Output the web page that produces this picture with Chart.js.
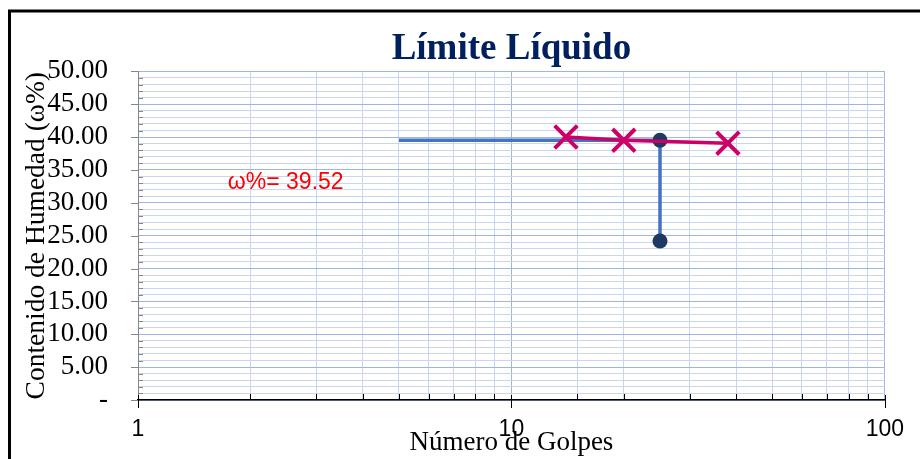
<!DOCTYPE html>
<html>
<head>
<meta charset="utf-8">
<script src="https://cdn.jsdelivr.net/npm/chart.js@4/dist/chart.umd.min.js"></script>
<style>
  body { margin: 0; background: #fff; }
  #wrap { width: 920px; height: 459px; }
</style>
</head>
<body>
<div id="wrap"><canvas id="lpChart" width="920" height="459"></canvas></div>
<script>
// ensayos de Casagrande
const golpes = [14, 20, 38];
const humedad = [40.02, 39.52, 39.08];
// lectura a 25 golpes
const lecturaX = [5, 25, 25];
const lecturaY = [39.52, 39.52, 24.2];
const puntosX = [25, 25];
const puntosY = [39.52, 24.2];
const xLabels = [1, 10, 100];
const limiteLiquido = 39.52;

const MINOR = "#c8d6f0";
const MAJOR = "#9db4e4";
const serif = "'Liberation Serif', 'Times New Roman', serif";
const sans = "'Liberation Sans', Arial, sans-serif";

const toPts = (xs, ys) => xs.map((x, i) => ({ x: x, y: ys[i] }));

// marco negro del gráfico + marcas de ejes
const framePlugin = {
  id: "frame",
  beforeDraw(chart) {
    const ctx = chart.ctx;
    ctx.save();
    ctx.strokeStyle = "#000";
    ctx.lineWidth = 3;
    ctx.strokeRect(9.5, 11, 1200, 1000);
    ctx.restore();
  },
  afterDraw(chart) {
    const ctx = chart.ctx;
    const xs = chart.scales.x;
    const ys = chart.scales.y;
    const a = chart.chartArea;
    ctx.save();
    ctx.lineWidth = 1;
    ctx.strokeStyle = "#868686";
    ys.ticks.forEach((t) => {
      const py = Math.round(ys.getPixelForValue(t.value)) + 0.5;
      ctx.beginPath();
      if (t.value % 5 === 0) {
        ctx.moveTo(a.left - 7, py);
        ctx.lineTo(a.left, py);
      } else {
        ctx.moveTo(a.left, py);
        ctx.lineTo(a.left + 5, py);
      }
      ctx.stroke();
    });
    ctx.strokeStyle = "#000";
    xs.ticks.forEach((t) => {
      const px = Math.round(xs.getPixelForValue(t.value)) + 0.5;
      ctx.beginPath();
      if (xLabels.includes(t.value)) {
        ctx.moveTo(px, a.bottom - 5);
        ctx.lineTo(px, a.bottom + 8);
      } else {
        ctx.moveTo(px, a.bottom - 6);
        ctx.lineTo(px, a.bottom);
      }
      ctx.stroke();
    });
    ctx.restore();
  },
  afterDatasetsDraw(chart) {
    const ctx = chart.ctx;
    ctx.save();
    ctx.fillStyle = "#ff0000";
    ctx.font = "23px " + sans;
    ctx.textAlign = "left";
    ctx.textBaseline = "middle";
    const px = chart.scales.x.getPixelForValue(1.74);
    const py = chart.scales.y.getPixelForValue(33.1);
    ctx.fillText("ω%= " + limiteLiquido.toFixed(2), px, py);
    ctx.restore();
  },
};

const ctx = document.getElementById("lpChart").getContext("2d");
new Chart(ctx, {
  type: "scatter",
  data: {
    datasets: [
      {
        label: "Ensayos",
        data: toPts(golpes, humedad),
        showLine: true,
        borderColor: "#cc0066",
        borderWidth: 3.5,
        pointStyle: "crossRot",
        pointRadius: 16,
        pointBorderWidth: 4,
        pointBorderColor: "#cc0066",
        pointHoverRadius: 16,
      },
      {
        label: "Puntos",
        data: toPts(puntosX, puntosY),
        pointRadius: 7.5,
        pointBackgroundColor: "#1f3864",
        pointBorderColor: "#1f3864",
        pointBorderWidth: 0,
      },
      {
        label: "Lectura",
        data: toPts(lecturaX, lecturaY),
        showLine: true,
        borderColor: "#4472c4",
        borderWidth: 3.5,
        pointRadius: 0,
      },
    ],
  },
  options: {
    responsive: false,
    animation: false,
    devicePixelRatio: 1,
    layout: { padding: { left: 0, right: 35, top: 0, bottom: 0 } },
    plugins: {
      legend: { display: false },
      tooltip: { enabled: false },
      title: {
        display: true,
        text: "Límite Líquido",
        fullSize: false,
        color: "#002060",
        font: { family: serif, size: 37, weight: "bold" },
        padding: { top: 27, bottom: 0 },
      },
    },
    scales: {
      x: {
        type: "logarithmic",
        min: 1,
        max: 100,
        afterFit: (s) => { s.height = 59; },
        grid: {
          drawTicks: false,
          color: (c) => (c.tick && xLabels.includes(c.tick.value) ? MAJOR : MINOR),
        },
        border: { color: "#000", width: 1.5 },
        ticks: {
          autoSkip: false,
          maxRotation: 0,
          padding: 16,
          color: "#000",
          font: { family: sans, size: 23 },
          callback: (v) => (xLabels.includes(v) ? String(v) : ""),
        },
        title: {
          display: true,
          text: "Número de Golpes",
          color: "#000",
          font: { family: serif, size: 27 },
          padding: { top: 0, bottom: 0 },
        },
      },
      y: {
        min: 0,
        max: 50,
        afterFit: (s) => { s.width = 138; },
        grid: {
          drawTicks: false,
          color: (c) => (c.tick && c.tick.value % 5 === 0 ? MAJOR : MINOR),
        },
        border: { color: "#868686", width: 1 },
        ticks: {
          stepSize: 1,
          maxTicksLimit: 100,
          autoSkip: false,
          padding: 30,
          color: "#000",
          font: { family: serif, size: 27 },
          callback: (v) => (v % 5 !== 0 ? "" : v === 0 ? "-" : v.toFixed(2)),
        },
        title: {
          display: true,
          text: "Contenido de Humedad (ω%)",
          color: "#000",
          font: { family: serif, size: 27.5 },
          padding: { top: 20, bottom: 0 },
        },
      },
    },
  },
  plugins: [framePlugin],
});
</script>
</body>
</html>
